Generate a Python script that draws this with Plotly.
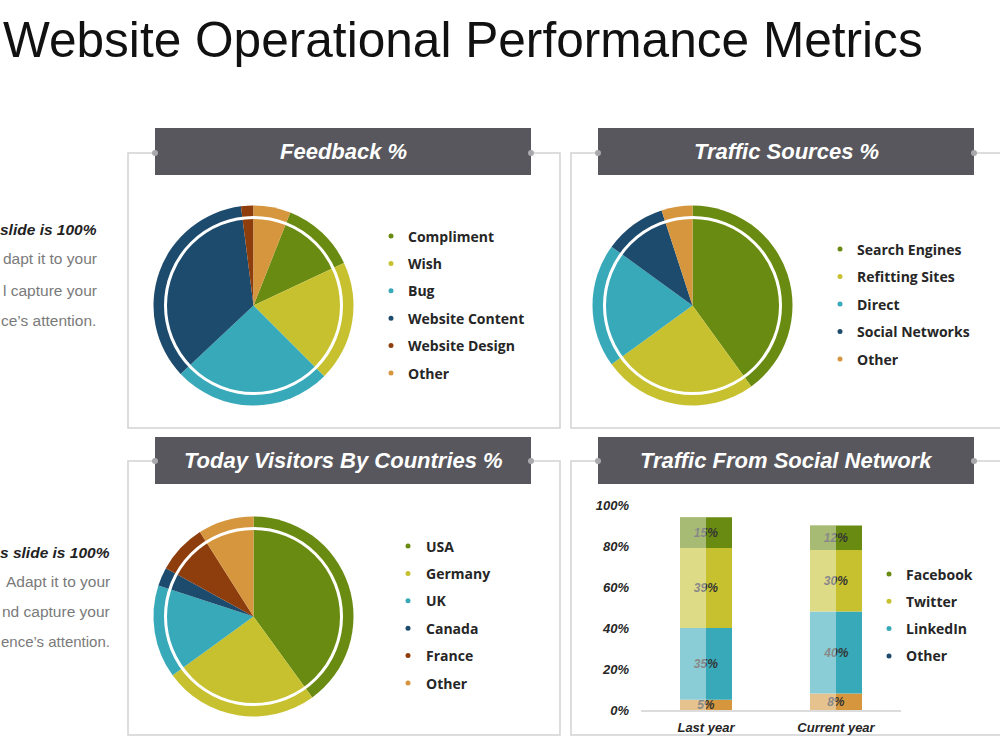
import plotly.graph_objects as go

W, H = 1000, 750

# ---------------- data ----------------
feedback_labels = ["Compliment", "Wish", "Bug", "Website Content", "Website Design", "Other"]
feedback_values = [12, 19.5, 25.5, 35, 2, 6]

traffic_labels = ["Search Engines", "Refitting Sites", "Direct", "Social Networks", "Other"]
traffic_values = [40, 25, 20, 10, 5]

country_labels = ["USA", "Germany", "UK", "Canada", "France", "Other"]
country_values = [40, 25, 15, 3, 8, 9]

periods = ["Last year", "Current year"]
social_labels = ["Facebook", "Twitter", "LinkedIn", "Other"]
social_other = [5, 8]
social_linkedin = [35, 40]
social_twitter = [39, 30]
social_facebook = [15, 12]
y_ticks = [0, 20, 40, 60, 80, 100]
y_tick_labels = [f"{t}%" for t in y_ticks]

# ---------------- styles ----------------
GREEN, YELLOW, TEAL, NAVY, BROWN, ORANGE = "#6a8b12", "#c7c130", "#38a9b9", "#1d4b6d", "#8e3d0c", "#d5963e"
feedback_colors = [GREEN, YELLOW, TEAL, NAVY, BROWN, ORANGE]
traffic_colors = [GREEN, YELLOW, TEAL, NAVY, ORANGE]
country_colors = [GREEN, YELLOW, TEAL, NAVY, BROWN, ORANGE]
social_legend_colors = [GREEN, YELLOW, TEAL, NAVY]

HEADER = "#58575d"
BORDER = "#d2d2d2"


def px(x):
    return x / W


def py(y):
    return 1 - y / H


shapes = []
annotations = []


def ann(x, y, text, size=14, color="#222", family="Liberation Sans", weight="normal",
        style="normal", xanchor="left"):
    annotations.append(dict(
        x=px(x), y=py(y), xref="paper", yref="paper", text=text, showarrow=False,
        xanchor=xanchor, yanchor="middle",
        font=dict(size=size, color=color, family=family, weight=weight, style=style)))


def panel(x0, y0, x1, y1, hx0, hx1, hy0, hy1, title):
    shapes.append(dict(type="rect", xref="paper", yref="paper", x0=px(x0), x1=px(x1),
                       y0=py(y1), y1=py(y0), line=dict(color=BORDER, width=1.5),
                       fillcolor="white", layer="below"))
    shapes.append(dict(type="rect", xref="paper", yref="paper", x0=px(hx0), x1=px(hx1),
                       y0=py(hy1), y1=py(hy0), line=dict(width=0),
                       fillcolor=HEADER, layer="above"))
    for hx in (hx0, hx1):
        shapes.append(dict(type="circle", xref="paper", yref="paper",
                           x0=px(hx - 3), x1=px(hx + 3), y0=py(y0 + 3), y1=py(y0 - 3),
                           line=dict(width=0), fillcolor="#a9a9ad", layer="above"))
    ann((hx0 + hx1) / 2, (hy0 + hy1) / 2, title, size=22, color="white",
        weight="bold", style="italic", xanchor="center")


def legend(x_dot, x_text, y0, step, labels, colors):
    for i, (lab, col) in enumerate(zip(labels, colors)):
        y = y0 + i * step
        shapes.append(dict(type="circle", xref="paper", yref="paper",
                           x0=px(x_dot - 2.5), x1=px(x_dot + 2.5),
                           y0=py(y + 2.5), y1=py(y - 2.5),
                           line=dict(width=0), fillcolor=col, layer="above"))
        ann(x_text, y, lab, size=14, color="#262626", family="Open Sans", weight=700)


fig = go.Figure()


def pie(labels, values, colors, cx, cy, r, rotation=0):
    fig.add_trace(go.Pie(
        labels=labels, values=values, sort=False, direction="clockwise",
        rotation=rotation, textinfo="none", hoverinfo="label+value",
        marker=dict(colors=colors, line=dict(width=0)), showlegend=False,
        domain=dict(x=[px(cx - r), px(cx + r)], y=[py(cy + r), py(cy - r)])))
    ri = r * 0.88
    shapes.append(dict(type="circle", xref="paper", yref="paper",
                       x0=px(cx - ri), x1=px(cx + ri), y0=py(cy + ri), y1=py(cy - ri),
                       line=dict(color="white", width=3), layer="above"))


# panels
panel(128, 153, 560, 428, 155, 531, 128, 175, "Feedback %")
panel(571, 153, 1010, 428, 598, 974, 128, 175, "Traffic Sources %")
panel(128, 461, 560, 735, 155, 531, 437, 484, "Today Visitors By Countries %")
panel(571, 461, 1010, 735, 598, 974, 437, 484, "Traffic From Social Network")

# pies
pie(feedback_labels, feedback_values, feedback_colors, 253.5, 305.5, 100,
    rotation=360 * feedback_values[-1] / sum(feedback_values))
pie(traffic_labels, traffic_values, traffic_colors, 692.5, 305.5, 100)
pie(country_labels, country_values, country_colors, 253.5, 616.5, 100)

# legends
legend(391, 406, 236, 27.4, feedback_labels, feedback_colors)
legend(840, 855, 249, 27.5, traffic_labels, traffic_colors)
legend(408, 424, 546, 27.4, country_labels, country_colors)
legend(889, 904, 574, 27.3, social_labels, social_legend_colors)

# stacked bars (bottom -> top)
BW = 0.4
stack = [(social_other, ORANGE), (social_linkedin, TEAL), (social_twitter, YELLOW),
         (social_facebook, GREEN)]
base = [0] * len(periods)
for vals, col in stack:
    fig.add_trace(go.Bar(
        x=periods, y=vals, base=list(base), width=BW, offset=-BW / 2,
        marker=dict(color=col, line=dict(width=0)),
        text=[f"{v}%" for v in vals], textposition="inside", insidetextanchor="middle",
        textfont=dict(size=12, color="#333333", family="Liberation Sans",
                      style="italic", weight="bold"),
        showlegend=False, xaxis="x", yaxis="y"))
    base = [b + v for b, v in zip(base, vals)]

# light highlight over left half of each bar
fig.add_trace(go.Bar(
    x=periods, y=base, base=0, width=BW / 2, offset=-BW / 2,
    marker=dict(color="rgba(255,255,255,0.42)", line=dict(width=0)),
    hoverinfo="skip", showlegend=False, xaxis="x", yaxis="y"))

# title
ann(1, 40, "Website Operational Performance Metrics", size=49.6, color="#111111")

# side texts (partly outside the slide in the original)
ann(99, 230, "slide is 100%", size=15.5, color="#222", weight="bold", style="italic",
    xanchor="right")
ann(99, 259, "dapt it to your", size=15.5, color="#7a7a7a", xanchor="right")
ann(99, 290, "l capture your", size=15.5, color="#7a7a7a", xanchor="right")
ann(98, 320, "ce’s attention.", size=15.5, color="#7a7a7a", xanchor="right")
ann(112, 552, "s slide is 100%", size=15.5, color="#222", weight="bold", style="italic",
    xanchor="right")
ann(112, 581, "Adapt it to your", size=15.5, color="#7a7a7a", xanchor="right")
ann(112, 611, "nd capture your", size=15.5, color="#7a7a7a", xanchor="right")
ann(112, 641, "ence’s attention.", size=15, color="#7a7a7a", xanchor="right")

axis_font = dict(size=13, color="#262626", family="Liberation Sans", weight="bold",
                 style="italic")

fig.update_layout(
    width=W, height=H, autosize=False,
    margin=dict(l=0, r=0, t=0, b=0, autoexpand=False),
    paper_bgcolor="white", plot_bgcolor="white",
    showlegend=False,
    barmode="overlay",
    uniformtext=dict(minsize=12, mode="show"),
    xaxis=dict(domain=[px(641), px(901)], range=[-0.5, 1.5], type="category",
               showgrid=False, zeroline=False, showline=True, linecolor="#dcdcdc",
               linewidth=1.5, ticks="", tickfont=axis_font, ticklabelstandoff=5,
               automargin=False, fixedrange=True),
    yaxis=dict(domain=[py(710), py(505)], range=[0, 100], tickvals=y_ticks,
               ticktext=y_tick_labels, showgrid=False, zeroline=False, showline=False,
               ticks="", tickfont=axis_font, ticklabelstandoff=11, automargin=False,
               fixedrange=True),
    shapes=shapes,
    annotations=annotations,
)

fig.write_html("out.html",
               post_script="document.body.style.margin='0';"
                           "document.documentElement.style.overflow='hidden';")
